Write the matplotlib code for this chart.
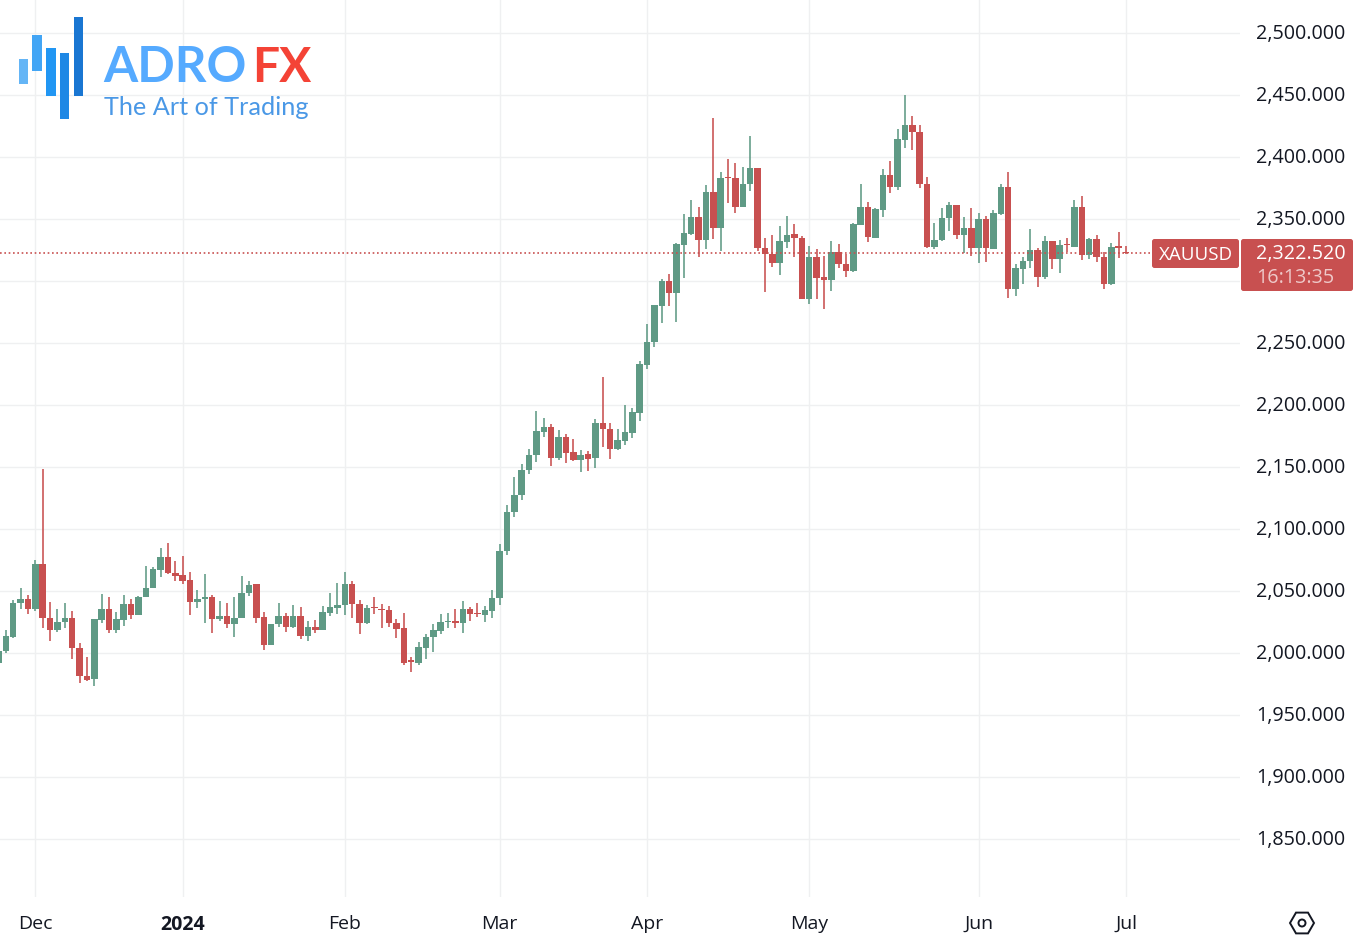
import matplotlib
matplotlib.use("Agg")
import matplotlib.pyplot as plt
import numpy as np
from matplotlib.patches import FancyBboxPatch, Rectangle, RegularPolygon, Circle
from matplotlib.transforms import ScaledTranslation

plt.rcParams['font.family'] = ['Open Sans', 'DejaVu Sans']

GREEN = '#5f9a85'
RED = '#c85050'
GRID = '#eff0f1'
TEXT = '#131722'

opens = [1992, 2001.6, 2013.2, 2040.3, 2043.8, 2035.5, 2071.8, 2028.2, 2018.6, 2024.7,
         2028.2, 2004, 1981.7, 1978.8, 2026.6, 2035.8, 2018.6, 2026.6, 2039.5, 2030.7,
         2044.9, 2052.4, 2066.9, 2077.2, 2064.8, 2062.9, 2058.9, 2040.9, 2043.3, 2045.4,
         2027.4, 2029.8, 2023.4, 2028, 2048.7, 2055.6, 2029, 2006.2, 2023.1, 2029.6,
         2020.7, 2029.6, 2013.4, 2020.7, 2018.6, 2032.5, 2036.6, 2038.7, 2055.4, 2039.8,
         2024.2, 2037, 2035.8, 2034.4, 2024.2, 2020.2, 1994.1, 1991.7, 2004.3, 2012.9,
         2017.7, 2024.7, 2026.1, 2023.9, 2035.8, 2032.3, 2030.4, 2033.9, 2044, 2082,
         2113.7, 2127.4, 2147.6, 2160, 2178.2, 2182.3, 2157.5, 2174.2, 2161.8, 2155.6,
         2160.2, 2157, 2185.5, 2180.9, 2164.3, 2171, 2177.7, 2193.8, 2232.5, 2250.8,
         2280, 2299.7, 2290.6, 2329, 2338.2, 2351.6, 2333.3, 2371.8, 2343, 2383.9,
         2382.8, 2360, 2378.2, 2391.4, 2326.3, 2322, 2314.8, 2331.7, 2337.6, 2334.7,
         2285.2, 2319.4, 2303, 2300.8, 2323.1, 2313.7, 2308, 2345.2, 2359.7, 2334.7,
         2357.4, 2385.5, 2376.1, 2414, 2425.8, 2420.4, 2378.5, 2327.4, 2333.1, 2350.5,
         2361.3, 2337.1, 2342.7, 2326.3, 2350, 2326.1, 2354, 2375.8, 2293.3, 2310,
         2316.4, 2324.7, 2303.5, 2332.3, 2318, 2329.8, 2327.7, 2359.7, 2321, 2333.9,
         2319.1, 2297.6, 2328.2, 2323.5]
highs = [2004, 2018.6, 2042.5, 2052.2, 2046.8, 2075, 2148.4, 2040.9, 2035.8, 2040,
         2033.9, 2007.8, 1997, 2027.7, 2047.6, 2044.9, 2033, 2046.8, 2043.3, 2046,
         2070.2, 2069, 2084.7, 2088.7, 2074.2, 2078.2, 2065.3, 2050.8, 2063.7, 2046.5,
         2041.9, 2040, 2044.9, 2062, 2058, 2056, 2033, 2023.7, 2040, 2032,
         2038.4, 2037, 2025.5, 2027, 2037.9, 2048.7, 2056.2, 2065.6, 2057.8, 2042.5,
         2039, 2045.4, 2039.2, 2037.6, 2027.7, 2032, 1996.5, 2008.9, 2015.6, 2023.7,
         2031.2, 2032.5, 2035.2, 2041.7, 2037, 2040, 2037.9, 2050.8, 2088, 2119.4,
         2141.9, 2152.2, 2164.8, 2195.2, 2189.2, 2184.4, 2179.8, 2176.6, 2172.3, 2163.7,
         2162.9, 2188.4, 2222.6, 2185.8, 2180.9, 2200, 2197.3, 2235.5, 2265.3, 2281,
         2301.3, 2305.4, 2330.4, 2353.8, 2365.3, 2359.7, 2377.4, 2431.2, 2387.6, 2398.4,
         2394.9, 2392.2, 2416.9, 2391.4, 2334.4, 2337.1, 2344.4, 2352.4, 2346.2, 2336.3,
         2328.2, 2325.8, 2320.2, 2332.3, 2329.6, 2321.8, 2346.5, 2378.2, 2363.7, 2359.1,
         2390.3, 2396.8, 2422.6, 2449.7, 2433.3, 2425.8, 2383.6, 2347, 2358.6, 2363.7,
         2361.3, 2351.6, 2359.1, 2354.6, 2352.4, 2357, 2378.2, 2387.6, 2313.4, 2319.1,
         2341.7, 2326.3, 2336.3, 2332.3, 2332.8, 2334.7, 2365, 2368.6, 2334.4, 2336.8,
         2323.1, 2330.4, 2339.5, 2328.2]
lows = [1988, 2000.3, 2011.8, 2035.5, 2031.5, 2034, 2019.9, 2010, 2017.2, 2019.9,
        1994.9, 1976.1, 1977.4, 1973.4, 2024, 2015.9, 2015.9, 2022, 2027.4, 2030.7,
        2044.9, 2052.4, 2061.6, 2064, 2058.3, 2055.6, 2030.7, 2036, 2024.5, 2016.4,
        2026, 2020.4, 2013.2, 2028, 2046, 2024.5, 2002.4, 2006.2, 2021, 2017,
        2020, 2011.6, 2009.4, 2016.4, 2018.3, 2029.8, 2031.5, 2030.4, 2028.2, 2015.6,
        2023.1, 2031.2, 2020.4, 2020.7, 2012.1, 1990.6, 1984.7, 1990.6, 1995.4, 2000.8,
        2015.6, 2020.4, 2020.4, 2016.4, 2025.8, 2029, 2025, 2028.5, 2039, 2079.3,
        2110, 2123.4, 2144, 2154.3, 2174.5, 2150.8, 2155.4, 2153, 2154.8, 2146.2,
        2146.8, 2149.5, 2166.4, 2156.7, 2163.7, 2167.7, 2173.1, 2187.1, 2228.8, 2247,
        2265.9, 2279.8, 2267, 2302.7, 2337.1, 2319.6, 2325.5, 2333.6, 2324.2, 2362.6,
        2354.6, 2360, 2372.9, 2324.5, 2291.4, 2311.6, 2304.8, 2326.3, 2319.6, 2285.2,
        2281.7, 2285.2, 2277.2, 2292, 2310.2, 2303.5, 2307, 2345.2, 2331.7, 2334.7,
        2351.9, 2371, 2373.7, 2407.5, 2405.9, 2374.7, 2326.9, 2325.5, 2332.5, 2340.3,
        2334.1, 2322.3, 2320.4, 2314.8, 2315.6, 2325.5, 2353.2, 2286.6, 2287.9, 2297.6,
        2310.8, 2295.4, 2301.3, 2310, 2306.7, 2323.4, 2327.7, 2316.9, 2317.5, 2315.6,
        2293.3, 2296.5, 2318.8, 2321.5]
closes = [2002, 2013.7, 2040.6, 2043.8, 2035.8, 2071.8, 2028.2, 2018.6, 2024.7, 2028.2,
          2003.8, 1981.7, 1978.2, 2027.2, 2035.8, 2018.6, 2027.2, 2039.5, 2030.7, 2045.4,
          2052.4, 2067.7, 2077.2, 2064.3, 2062.1, 2058.3, 2040.9, 2043.3, 2045.2, 2027.4,
          2029.8, 2023.4, 2028.2, 2048.7, 2054.8, 2028.5, 2006.2, 2023.7, 2029.6, 2021,
          2029.6, 2013.4, 2020.7, 2018.3, 2032.8, 2036.8, 2039, 2055.4, 2039.2, 2024.5,
          2036.3, 2036, 2034.4, 2023.9, 2019.6, 1992.2, 1992.7, 2004.6, 2013.2, 2018.3,
          2024.7, 2026.1, 2024.2, 2035.8, 2031.5, 2031.2, 2034.4, 2044.4, 2082.5, 2114,
          2127.4, 2147.9, 2160, 2179, 2182.3, 2157.5, 2174.2, 2161.6, 2155.4, 2160,
          2156.7, 2185.5, 2180.6, 2164.5, 2171.5, 2178.2, 2194.4, 2233, 2251, 2280.4,
          2300, 2290.6, 2329.6, 2338.7, 2351.6, 2333.3, 2371.8, 2343, 2383.3, 2383,
          2360, 2378.5, 2391.4, 2326.3, 2321.8, 2314.8, 2332.3, 2337.4, 2334.4, 2285.2,
          2319.4, 2302.7, 2300.8, 2323.1, 2313.7, 2308.3, 2346, 2359.7, 2335.2, 2357.8,
          2385.5, 2376.1, 2414.3, 2425.8, 2420.4, 2378.5, 2327.4, 2333.3, 2350.8, 2361.3,
          2337.1, 2342.7, 2326.3, 2350.3, 2326.3, 2354.8, 2375.8, 2293.3, 2310.5, 2316.4,
          2324.7, 2303.5, 2332.3, 2318, 2329.3, 2329, 2359.7, 2321, 2333.9, 2319.1,
          2297.9, 2327.2, 2326.9, 2322.52]

last_price = 2322.52
price_ticks = [1850, 1900, 1950, 2000, 2050, 2100, 2150, 2200, 2250, 2300, 2350, 2400, 2450, 2500]
month_pos = [5, 25, 47, 68, 88, 110, 133, 153]
month_labels = ['Dec', '2024', 'Feb', 'Mar', 'Apr', 'May', 'Jun', 'Jul']

W, H = 1354, 944
fig = plt.figure(figsize=(W / 100, H / 100), dpi=100, facecolor='white')

# main pane, x scale is 7.37px per candle, y scale is 1.24px per dollar
pane_w, pane_h = 1240, 897
ax = fig.add_axes([0, 1 - pane_h / H, pane_w / W, pane_h / H])
ax.set_xlim(5 - 35.3 / 7.37, 5 + (pane_w - 35.3) / 7.37)
ax.set_ylim(2500 - (pane_h - 33) / 1.24, 2500 + 33 / 1.24)
for s in ax.spines.values():
    s.set_visible(False)

ax.set_axisbelow(True)
ax.grid(True, color=GRID, lw=1.0)
ax.yaxis.tick_right()
ax.set_yticks(price_ticks)
# the 2,300 label sits behind the last price box
ax.set_yticklabels(['' if p == 2300 else f'{p:,.3f}' for p in price_ticks])
ax.set_xticks(month_pos)
ax.set_xticklabels(month_labels)
ax.tick_params(axis='y', length=0, pad=11.6, labelsize=14.2, labelcolor=TEXT)
ax.tick_params(axis='x', length=0, pad=13, labelsize=14, labelcolor=TEXT)
ax.get_xticklabels()[1].set_fontweight('bold')
up = ScaledTranslation(0, 1 / 100, fig.dpi_scale_trans)
for lab in ax.get_yticklabels():
    lab.set_transform(lab.get_transform() + up)

o = np.array(opens)
c = np.array(closes)
x = np.arange(len(o))
colors = [GREEN if b >= a else RED for a, b in zip(o, c)]

ax.vlines(x, lows, highs, colors=colors, lw=1.15, zorder=3)
body = np.maximum(np.abs(c - o), 1.0)
ax.bar(x, body, bottom=np.minimum(o, c), width=0.88, color=colors, lw=0, zorder=4)

ax.axhline(last_price, xmax=1152 / pane_w, color=RED, lw=1.2, ls=(0, (1, 1.6)), zorder=5)

# overlay in pixel coordinates for the labels and the logo
ov = fig.add_axes([0, 0, 1, 1], zorder=10)
ov.set_xlim(0, W)
ov.set_ylim(H, 0)
ov.axis('off')

ov.add_patch(FancyBboxPatch((1152, 239), 87, 29, boxstyle='round,pad=0,rounding_size=2.5', fc=RED, ec='none'))
ov.add_patch(FancyBboxPatch((1241, 239), 112, 52, boxstyle='round,pad=0,rounding_size=2.5', fc=RED, ec='none'))
ov.text(1196, 255, 'XAUUSD', color='white', fontsize=13.5, ha='center', va='center')
ov.text(1256, 254, '2,322.520', color='white', fontsize=14.2, ha='left', va='center')
ov.text(1256, 278, '16:13:35', color='#eec9c9', fontsize=14.2, ha='left', va='center')

# settings icon
ov.add_patch(RegularPolygon((1302, 923), 6, radius=12, orientation=np.pi / 6, fc='none', ec=TEXT, lw=1.4))
ov.add_patch(Circle((1302, 923), 3.5, fc='none', ec=TEXT, lw=1.4))

# logo
bars = [(19, 59, 9, 25, '#64b5f6'), (32, 35, 10, 36, '#42a5f5'), (46, 48, 10, 48, '#2196f3'),
        (60, 53, 9, 66, '#1e88e5'), (74, 17, 9, 79, '#1976d2')]
for bx, by, bw, bh, col in bars:
    ov.add_patch(Rectangle((bx, by), bw, bh, fc=col, ec='none'))
ov.text(103, 82, 'ADRO', color='#55aaff', fontsize=35.5, fontweight='bold', family='Lato', ha='left', va='baseline')
ov.text(252, 82, 'FX', color='#f44336', fontsize=34.5, fontweight='bold', family='Lato', ha='left', va='baseline')
ov.text(104, 115, 'The Art of Trading', color='#4a98e6', fontsize=18.2, family='Lato', ha='left', va='baseline')

fig.savefig('out.png', dpi=100)
